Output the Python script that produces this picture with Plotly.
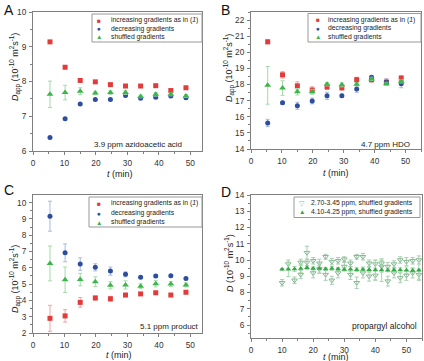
import plotly.graph_objects as go

W, H = 424, 361
def px(x): return x / W
def py(y): return 1 - y / H

# ---------------- data ----------------
t = [5.4, 10.2, 15.0, 19.8, 24.6, 29.4, 34.2, 39.0, 43.8, 48.6]

A_inc = [9.14, 8.41, 8.03, 7.99, 7.91, 7.87, 7.87, 7.88, 7.74, 7.82]
A_inc_err = [0.02, 0.02, 0.03, 0.02, 0.02, 0.02, 0.02, 0.03, 0.02, 0.02]
A_dec = [6.39, 6.93, 7.35, 7.48, 7.48, 7.60, 7.52, 7.55, 7.58, 7.53]
A_dec_err = [0.02, 0.02, 0.02, 0.02, 0.02, 0.02, 0.02, 0.02, 0.02, 0.02]
A_shuf = [7.63, 7.68, 7.72, 7.67, 7.68, 7.68, 7.57, 7.63, 7.63, 7.58]
A_shuf_err = [0.38, 0.21, 0.10, 0.05, 0.05, 0.05, 0.04, 0.05, 0.04, 0.04]

B_inc = [20.65, 18.60, 17.92, 17.66, 17.85, 17.80, 18.30, 18.30, 18.15, 18.40]
B_inc_err = [0.12, 0.20, 0.25, 0.20, 0.15, 0.15, 0.15, 0.15, 0.20, 0.15]
B_dec = [15.62, 16.87, 16.68, 16.98, 17.30, 17.30, 17.72, 18.45, 18.15, 18.05]
B_dec_err = [0.22, 0.10, 0.22, 0.18, 0.22, 0.10, 0.20, 0.10, 0.20, 0.25]
B_shuf = [17.95, 17.78, 17.55, 17.55, 18.02, 17.98, 18.02, 18.35, 18.05, 18.20]
B_shuf_err = [1.17, 0.45, 0.20, 0.15, 0.10, 0.12, 0.10, 0.10, 0.08, 0.10]

C_inc = [2.90, 3.05, 3.88, 4.15, 4.10, 4.33, 4.40, 4.47, 4.33, 4.50]
C_inc_err = [0.80, 0.38, 0.30, 0.12, 0.15, 0.10, 0.07, 0.05, 0.05, 0.05]
C_dec = [9.17, 6.92, 6.23, 6.03, 5.80, 5.60, 5.42, 5.50, 5.52, 5.35]
C_dec_err = [0.92, 0.55, 0.38, 0.22, 0.25, 0.15, 0.05, 0.08, 0.05, 0.05]
C_shuf = [6.27, 5.27, 5.28, 5.15, 4.93, 4.95, 4.87, 5.03, 5.00, 4.95]
C_shuf_err = [1.07, 0.78, 0.38, 0.30, 0.22, 0.25, 0.15, 0.20, 0.15, 0.12]

D_fill_t = [10, 12, 14, 16, 18, 20, 22, 24, 26, 28, 30, 32, 34, 36, 38, 40, 42, 44, 46, 48, 50, 52, 54]
D_fill = [9.43, 9.43, 9.45, 9.47, 9.52, 9.48, 9.47, 9.45, 9.48, 9.45, 9.42, 9.43,
          9.40, 9.42, 9.40, 9.38, 9.38, 9.37, 9.38, 9.38, 9.37, 9.35, 9.37]
D_fill_err = [0.05, 0.45, 0.15, 0.25, 0.10, 0.10, 0.30, 0.10, 0.12, 0.10, 0.10, 0.15,
              0.12, 0.15, 0.15, 0.60, 0.70, 0.10, 0.12, 0.15, 0.20, 0.15, 0.55]

D_open_t = [10, 12, 14, 16, 16, 18, 18, 20, 20, 22, 22, 24, 24, 26, 26, 28, 28, 30, 30,
            32, 32, 34, 34, 36, 36, 38, 38, 40, 40, 42, 42, 44, 44, 46, 46, 48, 48,
            50, 50, 52, 52, 54, 54]
D_open = [8.60, 9.75, 8.75, 9.85, 9.10, 10.45, 9.85, 9.95, 9.20, 9.80, 9.45, 10.20, 9.10,
          9.90, 8.75, 9.95, 9.20, 10.05, 9.60, 9.80, 9.10, 10.20, 8.60, 10.20, 9.20,
          9.80, 9.00, 9.75, 9.05, 9.80, 9.60, 9.60, 8.70, 9.75, 9.20, 10.00, 8.90,
          9.90, 9.05, 9.95, 9.20, 10.00, 9.10]
D_open_err = [0.20, 0.25, 0.20, 0.20, 0.25, 0.40, 0.20, 0.20, 0.30, 0.25, 0.20, 0.15, 0.35,
              0.20, 0.25, 0.20, 0.30, 0.15, 0.25, 0.20, 0.30, 0.15, 0.35, 0.20, 0.30,
              0.20, 0.30, 0.25, 0.30, 0.20, 0.35, 0.25, 0.30, 0.20, 0.30, 0.20, 0.30,
              0.25, 0.30, 0.20, 0.30, 0.25, 0.35]

legend_labels = ["increasing gradients as in (<i>1</i>)", "decreasing gradients", "shuffled gradients"]
legend_labels_D = ["2.70-3.45 ppm, shuffled gradients", "4.10-4.25 ppm, shuffled gradients"]

# ---------------- style ----------------
RED, RED_E = "#e23b3b", "#f2a3a3"
BLUE, BLUE_E = "#2d4e9e", "#a9b9dc"
GREEN, GREEN_E = "#3db54a", "#a3dba9"
OPEN_G = "#86b993"
AX = "#7f7f7f"
FONT = "Liberation Sans, Arial, sans-serif"

fig = go.Figure()

def add_series(xs, ys, errs, color, ecolor, symbol, ax, size=5, open_=False):
    n = "" if ax == 1 else str(ax)
    marker = dict(color=color, size=size, symbol=symbol)
    if open_:
        marker = dict(color=color, size=size, symbol=symbol, line=dict(color=color, width=1))
    fig.add_trace(go.Scatter(
        x=xs, y=ys, mode="markers", marker=marker,
        error_y=dict(type="data", array=errs, color=ecolor, thickness=1, width=2),
        xaxis="x" + n, yaxis="y" + n, showlegend=False, hoverinfo="skip"))

for ax, (inc, ince, dec, dece, shu, shue) in enumerate([
        (A_inc, A_inc_err, A_dec, A_dec_err, A_shuf, A_shuf_err),
        (B_inc, B_inc_err, B_dec, B_dec_err, B_shuf, B_shuf_err),
        (C_inc, C_inc_err, C_dec, C_dec_err, C_shuf, C_shuf_err)], start=1):
    add_series(t, inc, ince, RED, RED_E, "square", ax, 5)
    add_series(t, dec, dece, BLUE, BLUE_E, "circle", ax, 5)
    add_series(t, shu, shue, GREEN, GREEN_E, "triangle-up", ax, 6)

add_series(D_open_t, D_open, D_open_err, OPEN_G, "#a9cdb2", "triangle-down-open", 4, 5, True)
add_series(D_fill_t, D_fill, D_fill_err, "#33a844", GREEN_E, "triangle-up", 4, 5)

# panel boxes in pixels: (left, right, top, bottom)
boxes = {1: (33, 202, 12, 151), 2: (251, 421, 12, 149),
         3: (33, 202, 195, 333), 4: (251, 422, 195, 338)}
xranges = {1: [0, 53.7], 2: [0, 55], 3: [0, 53.7], 4: [0, 55]}
yranges = {1: [6, 10], 2: [14, 22.5], 3: [2, 10.47], 4: [5.2, 14]}

layout = dict(width=W, height=H, margin=dict(l=0, r=0, t=0, b=0),
              paper_bgcolor="white", plot_bgcolor="white",
              font=dict(family=FONT, size=8, color="#333"), showlegend=False)

for i in range(1, 5):
    l, r, tp, b = boxes[i]
    n = "" if i == 1 else str(i)
    common = dict(showline=True, linecolor=AX, linewidth=1, mirror=True,
                  ticks="outside", ticklen=3, tickcolor=AX, showgrid=False,
                  zeroline=False, automargin=False, ticklabelstandoff=1,
                  tickfont=dict(family=FONT, size=8.3, color="#333"))
    layout["xaxis" + n] = dict(common, domain=[px(l), px(r)], range=xranges[i],
                               anchor="y" + n, dtick=10, tick0=0,
                               minor=dict(ticks="outside", ticklen=2, dtick=5, tickcolor=AX))
    layout["yaxis" + n] = dict(common, domain=[py(b), py(tp)], range=yranges[i],
                               anchor="x" + n, dtick=1,
                               tick0=0,
                               minor=dict(ticks="outside", ticklen=2, dtick=0.5, tickcolor=AX))

annots = []
shapes = []

def ann(x, y, text, size=8, xanchor="left", yanchor="middle", angle=0, color="#222"):
    annots.append(dict(x=px(x), y=py(y), xref="paper", yref="paper", text=text,
                       showarrow=False, xanchor=xanchor, yanchor=yanchor, textangle=angle,
                       font=dict(family=FONT, size=size, color=color)))

# panel letters
for lx, ly, L in [(2, 10, "A"), (219, 10, "B"), (2, 190, "C"), (219, 192, "D")]:
    ann(lx, ly, L, size=14, color="#111")

ytitle = "<i>D</i><sub>app</sub> (10<sup>-10</sup> m<sup>2</sup>s<sup>-1</sup>)"
ytitleD = "<i>D</i> (10<sup>-10</sup> m<sup>2</sup>s<sup>-1</sup>)"
xtitle = "<i>t</i> (min)"
ann(15, 67, ytitle, 9, "center", "middle", -90)
ann(229, 68, ytitle, 9, "center", "middle", -90)
ann(15, 279, ytitle, 9, "center", "middle", -90)
ann(229, 263, ytitleD, 9, "center", "middle", -90)
ann(120, 174, xtitle, 9, "center")
ann(336, 173, xtitle, 9, "center")
ann(119, 355, xtitle, 9, "center")
ann(336, 357, xtitle, 9, "center")

# inner labels
ann(184, 145, "3.9 ppm azidoacetic acid", 8, "right")
ann(412, 144, "4.7 ppm HDO", 8, "right")
ann(201, 326, "5.1 ppm product", 8, "right")
ann(419, 326, "propargyl alcohol", 8.5, "right")

# legends
def legend(box, rows, symx, textx, entries):
    l, r, tp, b = box
    shapes.append(dict(type="rect", xref="paper", yref="paper",
                       x0=px(l), x1=px(r), y0=py(b), y1=py(tp),
                       line=dict(color="#999", width=1), fillcolor="white", layer="above"))
    for y, (sym, col, txt) in zip(rows, entries):
        ann(symx, y, sym, 6.5, "center", "middle", color=col)
        ann(textx, y, txt, 6.8, "left", "middle", color="#222")

entries3 = [("■", RED, legend_labels[0]), ("●", BLUE, legend_labels[1]), ("▲", GREEN, legend_labels[2])]
legend((92, 202, 14, 42), [20.3, 28.5, 36.7], 99, 109, entries3)
legend((308, 421, 13.5, 42), [19.5, 28.3, 36.7], 318, 326, entries3)
legend((89, 202, 197, 227), [203.3, 213, 222], 99, 109, entries3)
legend((294, 420, 197, 217.5), [203.3, 211.7], 301.5, 309,
       [("▽", OPEN_G, legend_labels_D[0]), ("▲", "#33a844", legend_labels_D[1])])

layout["annotations"] = annots
layout["shapes"] = shapes
fig.update_layout(**layout)
fig.write_html("out.html", config={"displayModeBar": False, "staticPlot": True},
               post_script="document.body.style.margin='0';document.body.style.overflow='hidden';")
